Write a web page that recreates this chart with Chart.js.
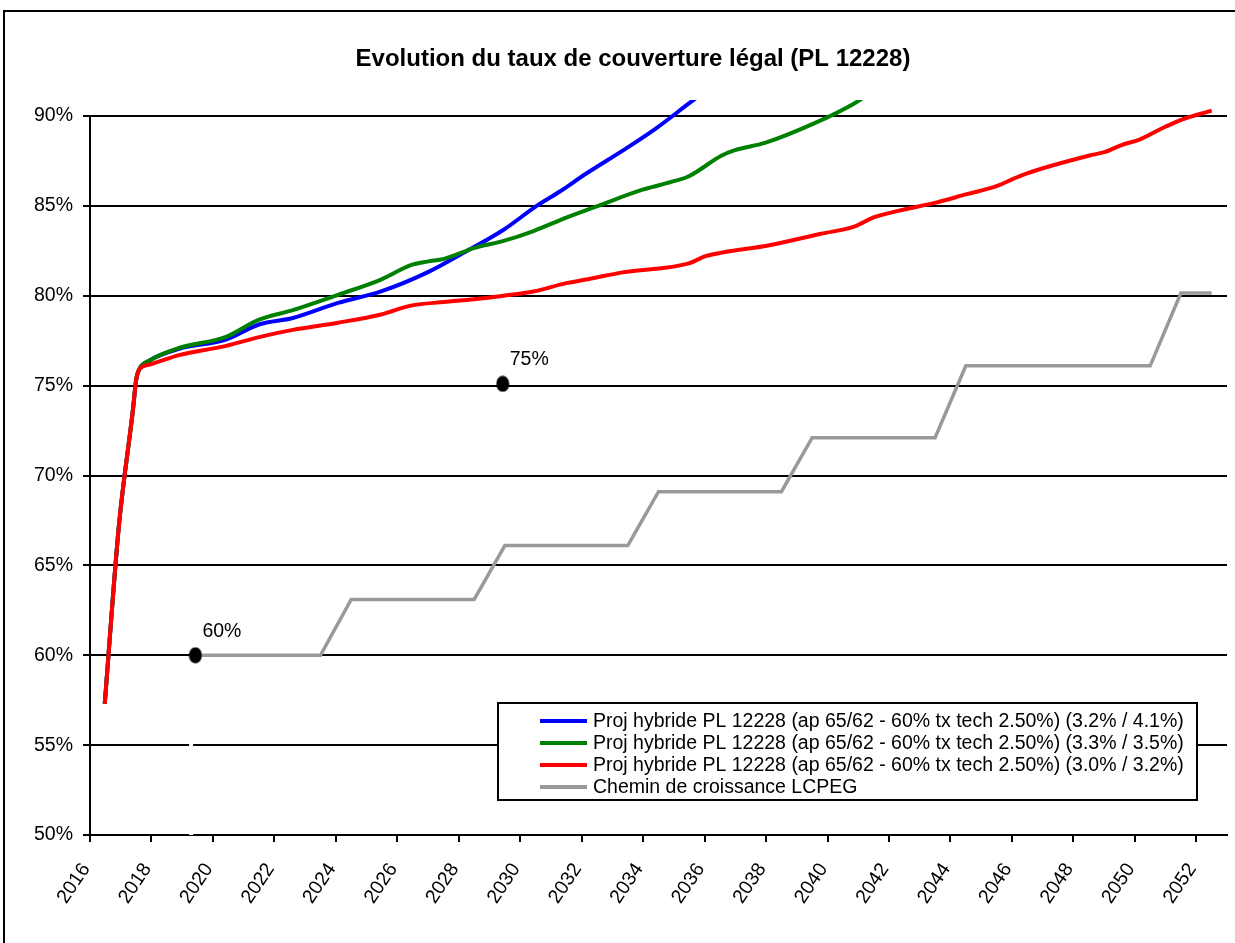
<!DOCTYPE html>
<html lang="fr">
<head>
<meta charset="utf-8">
<title>Evolution du taux de couverture légal (PL 12228)</title>
<script src="https://cdn.jsdelivr.net/npm/chart.js@4"></script>
<style>
  html, body { margin: 0; padding: 0; background: #fff; }
  canvas { display: block; }
</style>
</head>
<body>
<canvas id="coverageChart" width="1235" height="943"></canvas>
<script>
const chartTitle = 'Evolution du taux de couverture légal (PL 12228)';
const tickYears = [2016, 2018, 2020, 2022, 2024, 2026, 2028, 2030, 2032, 2034, 2036, 2038, 2040, 2042, 2044, 2046, 2048, 2050, 2052];

const blueLabel = 'Proj hybride PL 12228 (ap 65/62 - 60% tx tech 2.50%) (3.2% / 4.1%)';
const blueYears = [2016.48, 2016.94, 2017.40, 2017.50, 2017.60, 2017.94, 2018.90, 2020.40, 2021.50, 2022.60, 2024.07, 2025.47, 2026.98, 2028.06, 2029.46, 2030.50, 2031.29, 2032.15, 2033.45, 2034.41, 2035.49, 2036.00];
const blueValues = [57.3, 67.2, 73.7, 75.3, 75.9, 76.4, 77.05, 77.55, 78.4, 78.76, 79.6, 80.24, 81.3, 82.3, 83.67, 84.96, 85.8, 86.8, 88.2, 89.3, 90.7, 91.35];

const greenLabel = 'Proj hybride PL 12228 (ap 65/62 - 60% tx tech 2.50%) (3.3% / 3.5%)';
const greenYears = [2016.48, 2016.94, 2017.40, 2017.50, 2017.60, 2017.94, 2018.90, 2020.40, 2021.50, 2022.60, 2024.07, 2025.47, 2026.44, 2026.98, 2027.52, 2028.49, 2029.46, 2030.43, 2031.50, 2032.47, 2033.98, 2035.06, 2035.49, 2036.56, 2036.99, 2037.96, 2039.58, 2040.87, 2041.50];
const greenValues = [57.3, 67.2, 73.7, 75.3, 75.9, 76.4, 77.1, 77.7, 78.67, 79.2, 80.05, 80.9, 81.7, 81.9, 82.05, 82.65, 83.05, 83.6, 84.35, 84.96, 85.9, 86.4, 86.65, 87.8, 88.1, 88.5, 89.6, 90.7, 91.4];

const redLabel = 'Proj hybride PL 12228 (ap 65/62 - 60% tx tech 2.50%) (3.0% / 3.2%)';
const redYears = [2016.48, 2016.94, 2017.40, 2017.50, 2017.60, 2017.94, 2018.90, 2020.40, 2021.50, 2022.60, 2024.07, 2025.47, 2026.44, 2027.52, 2028.49, 2029.46, 2030.43, 2031.50, 2032.15, 2033.33, 2035.49, 2036.03, 2036.56, 2038.07, 2039.79, 2040.87, 2041.52, 2042.49, 2043.45, 2044.53, 2045.50, 2046.04, 2046.47, 2048.52, 2049.04, 2049.59, 2050.13, 2050.99, 2051.53, 2052.50];
const redValues = [57.3, 67.2, 73.7, 75.3, 75.9, 76.17, 76.7, 77.2, 77.7, 78.1, 78.5, 78.96, 79.45, 79.65, 79.8, 80.0, 80.24, 80.7, 80.9, 81.3, 81.8, 82.2, 82.4, 82.8, 83.45, 83.85, 84.37, 84.8, 85.15, 85.65, 86.1, 86.5, 86.8, 87.8, 88.0, 88.4, 88.67, 89.4, 89.8, 90.3];

const grayLabel = 'Chemin de croissance LCPEG';
const grayYears = [2019.5, 2023.5, 2024.5, 2028.5, 2029.5, 2033.5, 2034.5, 2038.5, 2039.5, 2043.5, 2044.5, 2050.5, 2051.5, 2052.5];
const grayValues = [60.0, 60.0, 63.1, 63.1, 66.1, 66.1, 69.1, 69.1, 72.1, 72.1, 76.1, 76.1, 80.15, 80.15];

const markerYears = [2019.43, 2029.43];
const markerValues = [60.0, 75.1];
const markerLabels = ['60%', '75%'];

// white drop line under the 60% marker (cuts the 55% line and the axis)
const gapYears = [2019.29, 2019.29];
const gapValues = [50, 59.5];

const FONT = '"Liberation Sans", Arial, sans-serif';

function toPoints(xs, ys) {
  return xs.map((x, i) => ({ x: x, y: ys[i] }));
}

function lineSet(label, xs, ys, color, order, width, smooth) {
  return {
    label: label,
    data: toPoints(xs, ys),
    borderColor: color,
    backgroundColor: color,
    borderWidth: width,
    pointRadius: 0,
    fill: false,
    tension: 0,
    cubicInterpolationMode: smooth ? 'monotone' : 'default',
    clip: { left: 5, top: 16, right: 0, bottom: 5 },
    order: order,
    inLegend: true
  };
}

// slightly oval black dot, like the original marker
const dot = document.createElement('canvas');
dot.width = 14;
dot.height = 17;
(function () {
  const c = dot.getContext('2d');
  c.fillStyle = '#000';
  c.beginPath();
  c.ellipse(7, 8.5, 6.5, 8, 0, 0, Math.PI * 2);
  c.fill();
})();

const framePlugin = {
  id: 'frame',
  beforeDraw(chart) {
    const ctx = chart.ctx;
    ctx.save();
    ctx.fillStyle = '#fff';
    ctx.fillRect(0, 0, chart.width, chart.height);
    ctx.strokeStyle = '#000';
    ctx.lineWidth = 2;
    ctx.beginPath();
    ctx.moveTo(4, chart.height + 5);
    ctx.lineTo(4, 11);
    ctx.lineTo(chart.width + 5, 11);
    ctx.stroke();
    ctx.restore();
  }
};

const markerLabelPlugin = {
  id: 'markerLabels',
  afterDatasetsDraw(chart) {
    const ctx = chart.ctx;
    chart.data.datasets.forEach((ds, i) => {
      if (!ds.pointLabels) return;
      const meta = chart.getDatasetMeta(i);
      ctx.save();
      ctx.font = '19.5px ' + FONT;
      ctx.fillStyle = '#000';
      ctx.textAlign = 'left';
      ctx.textBaseline = 'middle';
      meta.data.forEach((pt, j) => {
        ctx.fillText(ds.pointLabels[j], pt.x + 7, pt.y - 24);
      });
      ctx.restore();
    });
  }
};

const boxLegendPlugin = {
  id: 'boxLegend',
  afterDraw(chart) {
    const ctx = chart.ctx;
    const box = { x: 498, y: 703, w: 699, h: 97 };
    const items = chart.data.datasets.filter(ds => ds.inLegend);
    ctx.save();
    ctx.fillStyle = '#fff';
    ctx.fillRect(box.x, box.y, box.w, box.h);
    ctx.strokeStyle = '#000';
    ctx.lineWidth = 2;
    ctx.strokeRect(box.x, box.y, box.w, box.h);
    ctx.font = '19.5px ' + FONT;
    ctx.textAlign = 'left';
    ctx.textBaseline = 'middle';
    items.forEach((ds, i) => {
      const y = box.y + 18 + i * 22;
      ctx.strokeStyle = ds.borderColor;
      ctx.lineWidth = 4;
      ctx.beginPath();
      ctx.moveTo(540, y);
      ctx.lineTo(587, y);
      ctx.stroke();
      ctx.fillStyle = '#000';
      ctx.fillText(ds.label, 593, y + 1);
    });
    ctx.restore();
  }
};

document.addEventListener('DOMContentLoaded', () => {
  const ctx = document.getElementById('coverageChart').getContext('2d');
  new Chart(ctx, {
    type: 'line',
    data: {
      datasets: [
        lineSet(blueLabel, blueYears, blueValues, '#0000ff', 3, 4, true),
        lineSet(greenLabel, greenYears, greenValues, '#008000', 2, 4, true),
        lineSet(redLabel, redYears, redValues, '#ff0000', 1, 4, true),
        lineSet(grayLabel, grayYears, grayValues, '#999999', 4, 3.5, false),
        {
          label: 'points',
          data: toPoints(markerYears, markerValues),
          showLine: false,
          pointStyle: dot,
          pointRadius: 7,
          pointLabels: markerLabels,
          order: 0
        },
        {
          label: 'gap',
          data: toPoints(gapYears, gapValues),
          borderColor: '#ffffff',
          borderWidth: 4,
          pointRadius: 0,
          clip: { left: 0, top: 0, right: 0, bottom: 2 },
          order: 5
        }
      ]
    },
    options: {
      responsive: false,
      animation: false,
      devicePixelRatio: 1,
      layout: { padding: { left: 31, right: 0, top: 0, bottom: 0 } },
      plugins: {
        legend: { display: false },
        tooltip: { enabled: false },
        title: {
          display: true,
          text: chartTitle,
          color: '#000',
          font: { family: FONT, size: 24, weight: 'bold' },
          padding: { top: 45, bottom: 42.2 }
        }
      },
      scales: {
        x: {
          type: 'linear',
          min: 2016,
          max: 2053,
          afterBuildTicks: (scale) => {
            scale.ticks = tickYears.map(v => ({ value: v }));
          },
          afterFit: (scale) => { scale.height = 108; },
          ticks: {
            autoSkip: false,
            minRotation: 56,
            maxRotation: 56,
            padding: 17,
            labelOffset: -4,
            color: '#000',
            font: { family: FONT, size: 19.5 },
            callback: (value) => String(value)
          },
          grid: {
            drawOnChartArea: false,
            drawTicks: true,
            tickLength: 7,
            color: '#000',
            lineWidth: 2
          },
          border: { color: '#000', width: 2 }
        },
        y: {
          min: 50,
          max: 90,
          afterFit: (scale) => { scale.width = 59; },
          ticks: {
            stepSize: 5,
            padding: 10,
            color: '#000',
            font: { family: FONT, size: 19.5 },
            callback: (value) => value + '%'
          },
          grid: {
            color: '#000',
            lineWidth: 2,
            tickLength: 7
          },
          border: { color: '#000', width: 2 }
        }
      }
    },
    plugins: [framePlugin, markerLabelPlugin, boxLegendPlugin]
  });
});
</script>
</body>
</html>
